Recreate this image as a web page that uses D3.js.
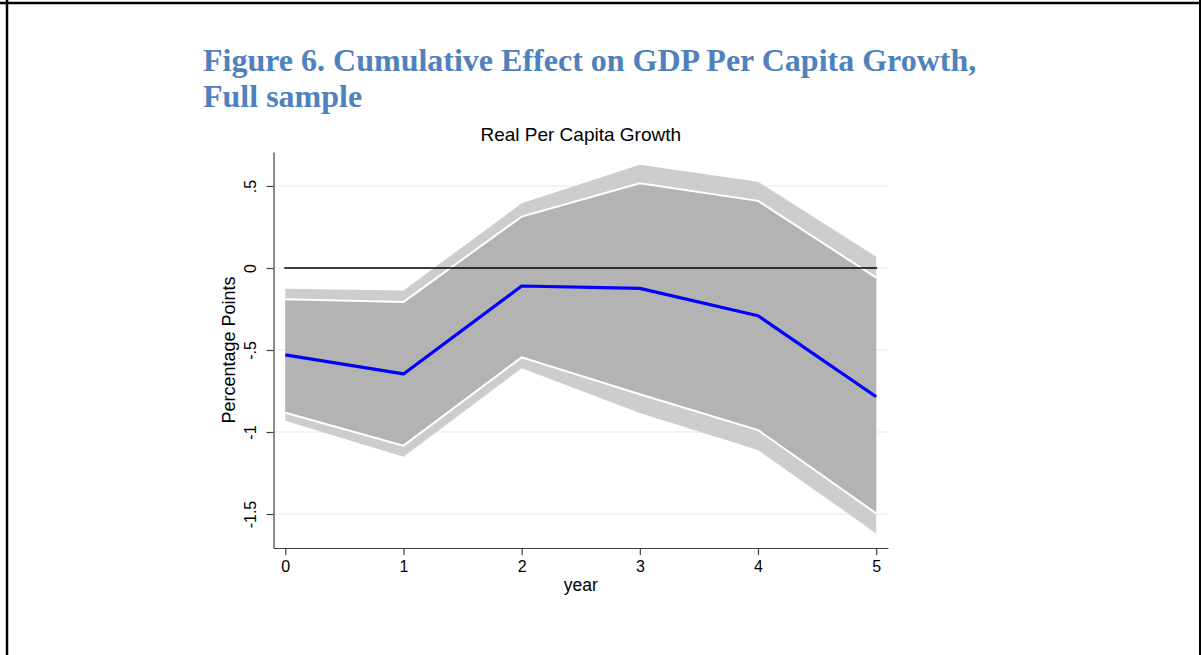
<!DOCTYPE html>
<html>
<head>
  <meta charset="utf-8">
  <title>Figure 6. Cumulative Effect on GDP Per Capita Growth</title>
  <script src="https://d3js.org/d3.v7.min.js"></script>
  <style>
    body { margin: 0; background: #fff; }
    .axis path, .axis line { stroke: #404040; stroke-width: 1.2px; }
    .grid line { stroke: #eaf1f4; stroke-width: 1.5px; }
    .label { font-family: "Liberation Sans", Arial, sans-serif; fill: #000; }
    .title { font: bold 32px "Liberation Serif", "Times New Roman", serif; fill: #4f81bd; }
  </style>
</head>
<body>
<script>
  // values (percentage points)
  const years = [0, 1, 2, 3, 4, 5];
  const estimate = [-0.530, -0.646, -0.110, -0.124, -0.291, -0.785];
  const innerUpper = [-0.190, -0.207, 0.313, 0.516, 0.409, -0.059];
  const innerLower = [-0.882, -1.083, -0.545, -0.770, -0.988, -1.496];
  const outerUpper = [-0.126, -0.138, 0.394, 0.630, 0.526, 0.069];
  const outerLower = [-0.931, -1.150, -0.612, -0.884, -1.110, -1.618];
  const yTicks = [0.5, 0, -0.5, -1, -1.5];

  const width = 1201, height = 655;

  const svg = d3.select("body").append("svg")
      .attr("width", width)
      .attr("height", height);

  // frame from the page the figure was cut from
  svg.append("line").attr("x1", 7).attr("x2", 7).attr("y1", 0).attr("y2", height)
      .attr("stroke", "#000").attr("stroke-width", 2.5);
  svg.append("line").attr("x1", 1200).attr("x2", 1200).attr("y1", 0).attr("y2", height)
      .attr("stroke", "#000").attr("stroke-width", 2);
  svg.append("line").attr("x1", 0).attr("x2", width).attr("y1", 3).attr("y2", 3)
      .attr("stroke", "#000").attr("stroke-width", 2.5);

  svg.append("text").attr("class", "title").attr("x", 203).attr("y", 71)
      .text("Figure 6. Cumulative Effect on GDP Per Capita Growth,");
  svg.append("text").attr("class", "title").attr("x", 203).attr("y", 107)
      .text("Full sample");

  const x = d3.scaleLinear().domain([-0.1, 5.1]).range([273.5, 888]);
  const y = d3.scaleLinear().domain([-1.707, 0.707]).range([548, 152]);

  // gridlines
  svg.append("g").attr("class", "grid")
    .selectAll("line")
    .data(yTicks)
    .enter().append("line")
      .attr("x1", x.range()[0]).attr("x2", x.range()[1])
      .attr("y1", d => y(d)).attr("y2", d => y(d));

  const rows = years.map((yr, i) => ({
    yr, est: estimate[i],
    iu: innerUpper[i], il: innerLower[i],
    ou: outerUpper[i], ol: outerLower[i]
  }));

  // outer band
  svg.append("path")
      .datum(rows)
      .attr("fill", "#cdcdcd")
      .attr("d", d3.area().x(d => x(d.yr)).y0(d => y(d.ol)).y1(d => y(d.ou)));

  // inner band
  svg.append("path")
      .datum(rows)
      .attr("fill", "#b3b3b3")
      .attr("d", d3.area().x(d => x(d.yr)).y0(d => y(d.il)).y1(d => y(d.iu)));

  // white edges of the inner band
  [d => d.iu, d => d.il].forEach(acc => {
    svg.append("path")
        .datum(rows)
        .attr("fill", "none")
        .attr("stroke", "#fff")
        .attr("stroke-width", 2)
        .attr("d", d3.line().x(d => x(d.yr)).y(d => y(acc(d))));
  });

  // zero line
  svg.append("line")
      .attr("x1", x(0) - 1).attr("x2", x(5) + 1)
      .attr("y1", y(0)).attr("y2", y(0))
      .attr("stroke", "#000").attr("stroke-width", 1.5);

  // point estimate
  svg.append("path")
      .datum(rows)
      .attr("fill", "none")
      .attr("stroke", "#0000ff")
      .attr("stroke-width", 3.2)
      .attr("stroke-linejoin", "round")
      .attr("d", d3.line().x(d => x(d.yr)).y(d => y(d.est)));

  // axes
  const fmt = d => d === 0 ? "0" : String(d).replace("0.", ".");

  const yAxis = svg.append("g")
      .attr("class", "axis")
      .attr("transform", `translate(${x.range()[0]},0)`)
      .call(d3.axisLeft(y).tickValues(yTicks).tickFormat(fmt).tickSize(7).tickSizeOuter(0));
  yAxis.selectAll("text")
      .attr("x", null).attr("dy", null)
      .attr("text-anchor", "middle")
      .attr("transform", "translate(-18,0) rotate(-90)")
      .style("font-family", "'Liberation Sans', Arial, sans-serif")
      .style("font-size", "16px")
      .style("fill", "#000");

  const xAxis = svg.append("g")
      .attr("class", "axis")
      .attr("transform", `translate(0,${y.range()[0]})`)
      .call(d3.axisBottom(x).tickValues(years).tickFormat(d3.format("d")).tickSize(7).tickSizeOuter(0));
  xAxis.selectAll("text")
      .attr("y", 13)
      .style("font-family", "'Liberation Sans', Arial, sans-serif")
      .style("font-size", "16px")
      .style("fill", "#000");

  // titles
  svg.append("text").attr("class", "label")
      .attr("x", (x.range()[0] + x.range()[1]) / 2).attr("y", 141)
      .attr("text-anchor", "middle").style("font-size", "19px")
      .text("Real Per Capita Growth");

  svg.append("text").attr("class", "label")
      .attr("x", (x.range()[0] + x.range()[1]) / 2).attr("y", 591)
      .attr("text-anchor", "middle").style("font-size", "17.5px")
      .text("year");

  svg.append("text").attr("class", "label")
      .attr("transform", `translate(235,${(y.range()[0] + y.range()[1]) / 2}) rotate(-90)`)
      .attr("text-anchor", "middle").style("font-size", "18px")
      .text("Percentage Points");
</script>
</body>
</html>
